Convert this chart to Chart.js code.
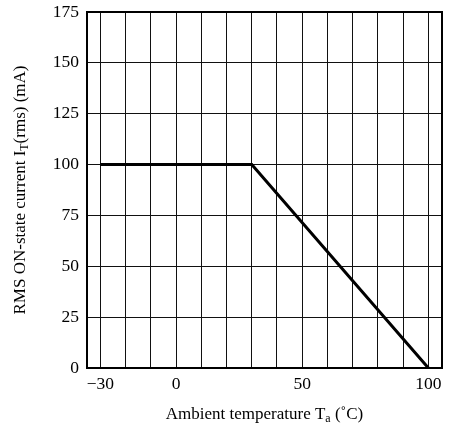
<!DOCTYPE html>
<html lang="en">
<head>
<meta charset="UTF-8">
<title>RMS ON-state current vs ambient temperature</title>
<script src="https://cdn.jsdelivr.net/npm/chart.js"></script>
<style>
    html, body { margin: 0; padding: 0; background: #fff; }
    #wrap { width: 449px; height: 428px; }
</style>
</head>
<body>
<div id="wrap"><canvas id="derating" width="449" height="428"></canvas></div>
<script>
// derating curve
const tempPoints = [-30, 30, 100];
const currentPoints = [100, 100, 0];

// vertical grid lines and the labelled ones
const gridTemps = [-30, -20, -10, 0, 10, 20, 30, 40, 50, 60, 70, 80, 90, 100];
const labelTemps = [-30, 0, 50, 100];

const serif = '"Liberation Serif", "DejaVu Serif", serif';

// axis titles with subscripts, drawn by hand
function drawParts(ctx, parts, x, y, size) {
    let total = 0;
    parts.forEach(p => {
        ctx.font = (p.sub ? size * 0.7 : size) + 'px ' + serif;
        total += ctx.measureText(p.t).width;
    });
    let cx = x - total / 2;
    parts.forEach(p => {
        ctx.font = (p.sub ? size * 0.7 : size) + 'px ' + serif;
        ctx.fillText(p.t, cx, y + (p.sub ? size * 0.22 : 0));
        cx += ctx.measureText(p.t).width;
    });
}

const titlePlugin = {
    id: 'titles',
    afterDraw(chart) {
        const ctx = chart.ctx;
        const a = chart.chartArea;
        ctx.save();
        ctx.strokeStyle = '#000';
        ctx.lineWidth = 2;
        ctx.strokeRect(a.left, a.top, a.right - a.left, a.bottom - a.top);

        ctx.fillStyle = '#000';
        ctx.textBaseline = 'middle';
        drawParts(ctx, [
            { t: 'Ambient temperature T' }, { t: 'a', sub: true }, { t: ' (\u02DAC)' }
        ], (a.left + a.right) / 2, 415, 17);

        ctx.translate(21, (a.top + a.bottom) / 2);
        ctx.rotate(-Math.PI / 2);
        drawParts(ctx, [
            { t: 'RMS ON-state current I' }, { t: 'T', sub: true }, { t: '(rms) (mA)' }
        ], 0, 0, 17);
        ctx.restore();
    }
};

new Chart(document.getElementById('derating'), {
    type: 'line',
    data: {
        datasets: [{
            data: tempPoints.map((t, i) => ({ x: t, y: currentPoints[i] })),
            borderColor: '#000',
            borderWidth: 3,
            pointRadius: 0,
            tension: 0,
            fill: false
        }]
    },
    options: {
        responsive: false,
        animation: false,
        layout: { padding: { left: 0, right: 7, top: 12, bottom: 0 } },
        plugins: { legend: { display: false }, tooltip: { enabled: false } },
        scales: {
            x: {
                type: 'linear',
                min: -35.3,
                max: 105.4,
                afterBuildTicks: s => { s.ticks = gridTemps.map(v => ({ value: v })); },
                afterFit: s => { s.height = 60; s.paddingLeft = 0; s.paddingRight = 0; },
                grid: { color: '#111', lineWidth: 1, drawTicks: false },
                border: { display: false },
                ticks: {
                    padding: 6,
                    color: '#000',
                    font: { family: serif, size: 17.5 },
                    autoSkip: false,
                    maxRotation: 0,
                    callback: v => labelTemps.includes(v) ? (v < 0 ? '\u2212' + Math.abs(v) : String(v)) : ''
                }
            },
            y: {
                min: 0,
                max: 175,
                afterFit: s => { s.width = 87; s.paddingTop = 0; s.paddingBottom = 0; },
                grid: { color: '#111', lineWidth: 1, drawTicks: false },
                border: { display: false },
                ticks: {
                    stepSize: 25,
                    padding: 8,
                    color: '#000',
                    font: { family: serif, size: 17.5 }
                }
            }
        }
    },
    plugins: [titlePlugin]
});
</script>
</body>
</html>
